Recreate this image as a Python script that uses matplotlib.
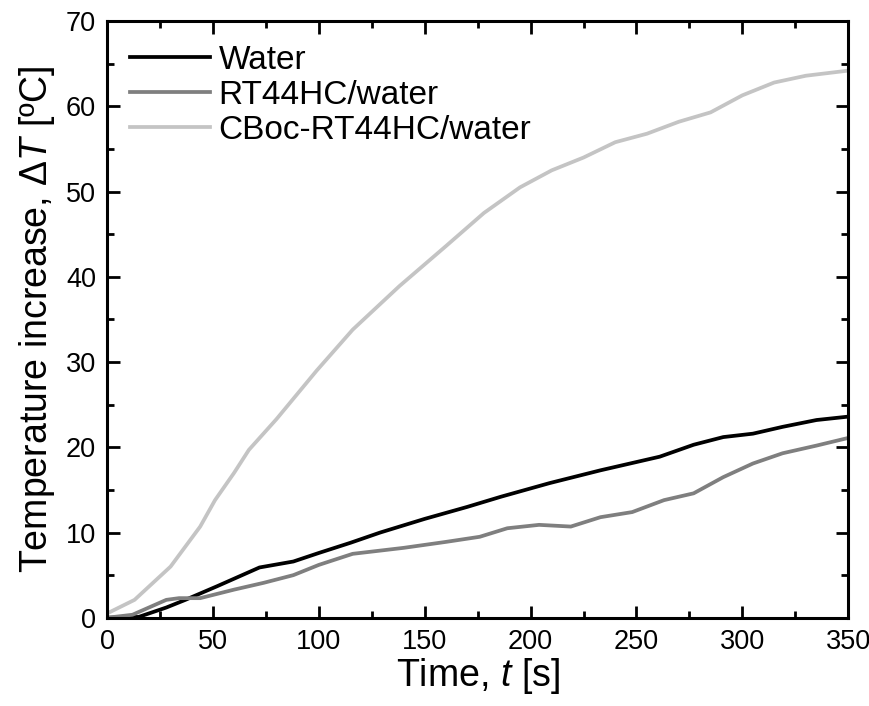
import matplotlib.pyplot as plt
from matplotlib.ticker import MultipleLocator

plt.rcParams["font.family"] = ["Liberation Sans", "DejaVu Sans"]
plt.rcParams["mathtext.fontset"] = "custom"
plt.rcParams["mathtext.it"] = "Liberation Sans:italic"
plt.rcParams["mathtext.rm"] = "Liberation Sans"

# Temperature rise curves
t_water = [0, 15, 28, 37, 52, 72, 88, 100, 115, 129, 150, 170, 186, 209, 233, 261, 277, 291, 305, 319, 335, 350]
dT_water = [0, 0.1, 1.2, 2.1, 3.7, 5.9, 6.6, 7.6, 8.8, 10.0, 11.6, 13.0, 14.2, 15.8, 17.3, 18.9, 20.3, 21.2, 21.6, 22.4, 23.2, 23.6]

t_rt = [0, 12, 28, 34, 44, 60, 74, 88, 100, 116, 140, 160, 176, 189, 204, 219, 233, 248, 263, 277, 291, 305, 319, 335, 350]
dT_rt = [0, 0.35, 2.1, 2.3, 2.3, 3.3, 4.1, 5.0, 6.2, 7.5, 8.2, 8.9, 9.5, 10.5, 10.9, 10.7, 11.8, 12.4, 13.8, 14.6, 16.5, 18.1, 19.3, 20.2, 21.1]

t_cb = [0, 13, 30, 44, 51, 60, 67, 80, 99, 116, 138, 160, 178, 195, 210, 225, 240, 255, 270, 285, 300, 315, 330, 350]
dT_cb = [0.5, 2.1, 6.0, 10.7, 13.8, 17.0, 19.7, 23.3, 29.0, 33.8, 38.9, 43.6, 47.5, 50.5, 52.5, 54.0, 55.8, 56.8, 58.2, 59.3, 61.3, 62.8, 63.6, 64.2]

fig = plt.figure(figsize=(8.7, 7.06), dpi=100)
ax = fig.add_axes([0.123, 0.125, 0.852, 0.845])

ax.plot(t_water, dT_water, color="black", lw=2.7, label="Water")
ax.plot(t_rt, dT_rt, color="#7f7f7f", lw=2.7, label="RT44HC/water")
ax.plot(t_cb, dT_cb, color="#c4c4c4", lw=2.7, label="CBoc-RT44HC/water")

ax.set_xlim(0, 350)
ax.set_ylim(0, 70)
ax.xaxis.set_major_locator(MultipleLocator(50))
ax.xaxis.set_minor_locator(MultipleLocator(25))
ax.yaxis.set_major_locator(MultipleLocator(10))
ax.yaxis.set_minor_locator(MultipleLocator(5))
ax.tick_params(which="both", direction="in", top=True, right=True, width=2)
ax.tick_params(which="major", length=9, labelsize=19.5, pad=8)
ax.tick_params(which="minor", length=5)
for s in ax.spines.values():
    s.set_linewidth(2.2)

ax.set_xlabel("Time, $t$ [s]", fontsize=27, labelpad=1)
ax.set_ylabel(r"Temperature increase, $\mathit{Δ}T$ [ºC]", fontsize=27, labelpad=6)

ax.legend(loc="upper left", frameon=False, fontsize=24, handlelength=2.4,
          handletextpad=0.25, labelspacing=0.12, borderaxespad=0.3)

fig.savefig("out.png", dpi=100)
